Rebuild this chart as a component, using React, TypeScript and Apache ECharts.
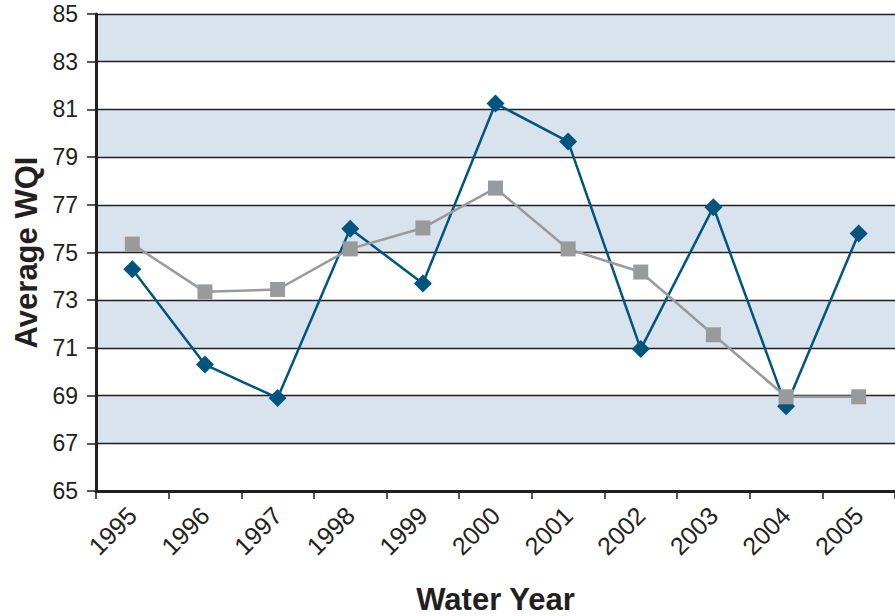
import React, { useEffect, useRef } from "react";
import * as echarts from "echarts";

const years = ["1995", "1996", "1997", "1998", "1999", "2000", "2001", "2002", "2003", "2004", "2005"];
const blueSeries = [74.3, 70.3, 68.9, 76.0, 73.7, 81.25, 79.65, 70.95, 76.9, 68.55, 75.8];
const graySeries = [75.35, 73.35, 73.45, 75.15, 76.03, 77.7, 75.15, 74.18, 71.55, 68.95, 68.95];
const yTicks = { min: 65, max: 85, interval: 2 };

export default function App() {
  const ref = useRef<HTMLDivElement>(null);
  useEffect(() => {
    if (!ref.current) return;
    const chart = echarts.init(ref.current, undefined, { renderer: "svg" });
    chart.setOption({
      animation: false,
      grid: { left: 96, top: 14, right: 0, bottom: 125, containLabel: false, outerBoundsMode: "none" },
      xAxis: {
        type: "category",
        data: years,
        boundaryGap: true,
        name: "Water Year",
        nameLocation: "middle",
        nameGap: 93,
        nameTextStyle: { fontFamily: "Liberation Sans, Arial", fontWeight: "bold", fontSize: 31, color: "#231f20" },
        axisLine: { show: true, lineStyle: { color: "#231f20", width: 3 } },
        axisTick: { show: true, alignWithLabel: false, length: 8, lineStyle: { color: "#231f20", width: 1.5 } },
        axisLabel: {
          rotate: 45,
          margin: 20,
          fontFamily: "Liberation Sans, Arial",
          fontSize: 25,
          color: "#231f20",
        },
        splitLine: { show: false },
      },
      yAxis: {
        type: "value",
        min: yTicks.min,
        max: yTicks.max,
        interval: yTicks.interval,
        name: "Average WQI",
        nameLocation: "middle",
        nameGap: 52,
        nameRotate: 90,
        nameTextStyle: { fontFamily: "Liberation Sans, Arial", fontWeight: "bold", fontSize: 31, color: "#231f20" },
        axisLine: { show: true, lineStyle: { color: "#231f20", width: 3 } },
        axisTick: { show: true, length: 9, lineStyle: { color: "#231f20", width: 1.5 } },
        axisLabel: {
          margin: 18,
          fontFamily: "Liberation Sans Narrow, Arial Narrow, Liberation Sans",
          fontSize: 23,
          color: "#231f20",
        },
        splitLine: { show: true, lineStyle: { color: "#231f20", width: 1.3 } },
        splitArea: { show: true, areaStyle: { color: ["#ffffff", "#d8e3ed"] } },
      },
      series: [
        {
          type: "line",
          data: graySeries,
          symbol: "rect",
          symbolSize: 15,
          lineStyle: { color: "#999a9c", width: 2.5 },
          itemStyle: { color: "#999a9c" },
          z: 2,
        },
        {
          type: "line",
          data: blueSeries,
          symbol: "diamond",
          symbolSize: [18, 18],
          lineStyle: { color: "#00557f", width: 2.5 },
          itemStyle: { color: "#00557f" },
          z: 1,
        },
      ],
    });
    return () => chart.dispose();
  }, []);
  return <div ref={ref} style={{ width: 895, height: 616, position: "absolute", left: 0, top: 0 }} />;
}
